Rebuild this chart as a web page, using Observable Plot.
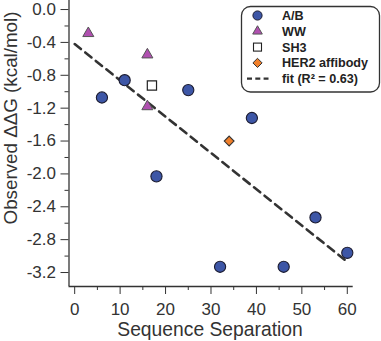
<!DOCTYPE html>
<html>
<head>
<meta charset="utf-8">
<script src="https://cdn.jsdelivr.net/npm/d3@7"></script>
<script src="https://cdn.jsdelivr.net/npm/@observablehq/plot@0.6"></script>
<style>
  html, body { margin: 0; padding: 0; background: #fff; }
  svg { font-family: "Liberation Sans", Arial, sans-serif; }
</style>
</head>
<body>
<div id="chart"></div>
<script>
// ---- data ----
const abX = [6, 11, 18, 25, 32, 39, 46, 53, 60];
const abY = [-1.07, -0.86, -2.03, -0.98, -3.13, -1.32, -3.13, -2.53, -2.96];
const wwX = [3, 16, 16];
const wwY = [-0.29, -0.55, -1.18];
const sh3X = [17];
const sh3Y = [-0.925];
const herX = [34];
const herY = [-1.60];
const fitX = [0, 60];
const fitY = [-0.42, -3.07];

const xTicks = [0, 10, 20, 30, 40, 50, 60];
const xMinor = [5, 15, 25, 35, 45, 55];
const yTicks = [0, -0.4, -0.8, -1.2, -1.6, -2.0, -2.4, -2.8, -3.2];
const yMinor = [-0.2, -0.6, -1.0, -1.4, -1.8, -2.2, -2.6, -3.0];
const xDomain = [-1.25, 61.3];
const yDomain = [-3.37, 0.11];

const xLabel = "Sequence Separation";
const yLabel = "Observed \u0394\u0394G (kcal/mol)";
const legendLabels = ["A/B", "WW", "SH3", "HER2 affibody", "fit (R\u00B2 = 0.63)"];

const toRows = (xs, ys) => xs.map((x, i) => ({x, y: ys[i]}));
const ab = toRows(abX, abY), ww = toRows(wwX, wwY), sh3 = toRows(sh3X, sh3Y), her = toRows(herX, herY), fit = toRows(fitX, fitY);

const axisColor = "#333";
const blue = "#3d56a6", purple = "#b050b0", orange = "#f07f2a";

const plot = Plot.plot({
  width: 381,
  height: 341,
  marginLeft: 68.5,
  marginRight: 28.3,
  marginTop: 0,
  marginBottom: 55,
  style: {fontFamily: "'Liberation Sans', Arial, sans-serif", fontSize: "17px", color: axisColor},
  x: {domain: xDomain},
  y: {domain: yDomain},
  marks: [
    Plot.ruleX([xDomain[0]], {stroke: axisColor, strokeWidth: 1.3}),
    Plot.ruleY([yDomain[0]], {stroke: axisColor, strokeWidth: 1.3}),
    Plot.axisX({ticks: xTicks, tickSize: 8, tickPadding: 8, tickFormat: d => String(d), stroke: axisColor, label: null, fontSize: 17}),
    Plot.axisX({ticks: xMinor, tickSize: 4, text: null, label: null, stroke: axisColor}),
    Plot.axisY({ticks: yTicks, tickSize: 8, tickPadding: 5, tickFormat: d => d.toFixed(1), stroke: axisColor, label: null, fontSize: 17}),
    Plot.axisY({ticks: yMinor, tickSize: 4, text: null, label: null, stroke: axisColor}),
    Plot.line(fit, {x: "x", y: "y", stroke: "#333", strokeWidth: 2.6, strokeDasharray: "8,5.5"}),
    Plot.dot(ab, {x: "x", y: "y", r: 5.6, fill: blue, stroke: "#1c1c30", strokeWidth: 1.1, symbol: "circle"}),
    Plot.dot(ww, {x: "x", y: "y", r: 4.1, fill: purple, stroke: "#555", strokeWidth: 1, symbol: "triangle"}),
    Plot.dot(sh3, {x: "x", y: "y", r: 5.2, fill: "#fff", stroke: "#222", strokeWidth: 1.2, symbol: "square"}),
    Plot.dot(her, {x: "x", y: "y", r: 4.4, fill: orange, stroke: "#333", strokeWidth: 1.1, symbol: "diamond2"})
  ]
});

const svg = d3.select(plot);

// axis titles
svg.append("text").attr("x", 210).attr("y", 335.5).attr("text-anchor", "middle")
  .attr("font-size", 19.3).attr("fill", "#333").text(xLabel);
svg.append("text").attr("transform", "translate(17,118) rotate(-90)").attr("text-anchor", "middle")
  .attr("font-size", 18.8).attr("fill", "#333").text(yLabel);

// legend
const lg = svg.append("g").attr("text-anchor", "start");
lg.append("rect").attr("x", 241.5).attr("y", 6.5).attr("width", 138).attr("height", 85.5)
  .attr("rx", 9).attr("fill", "#fff").attr("stroke", "#333").attr("stroke-width", 1.3);
const rowY = i => 15.5 + i * 15.8;
const mx = 257.5;
lg.append("circle").attr("cx", mx).attr("cy", rowY(0)).attr("r", 4.6).attr("fill", blue).attr("stroke", "#1c1c30");
lg.append("path").attr("d", d3.symbol(d3.symbolTriangle, 40)()).attr("transform", `translate(${mx},${rowY(1)})`)
  .attr("fill", purple).attr("stroke", "#555");
lg.append("rect").attr("x", mx - 4).attr("y", rowY(2) - 4).attr("width", 8).attr("height", 8).attr("fill", "#fff").attr("stroke", "#222").attr("stroke-width", 1.1);
lg.append("path").attr("d", "M0,-4.6L4.6,0L0,4.6L-4.6,0Z").attr("transform", `translate(${mx},${rowY(3)})`)
  .attr("fill", orange).attr("stroke", "#333");
lg.append("line").attr("x1", 247).attr("x2", 268.5).attr("y1", rowY(4)).attr("y2", rowY(4))
  .attr("stroke", "#333").attr("stroke-width", 2.2).attr("stroke-dasharray", "5,3.3");
legendLabels.forEach((t, i) => {
  lg.append("text").attr("x", 282).attr("y", rowY(i)).attr("dy", "0.36em")
    .attr("font-size", 12.6).attr("font-weight", "bold").attr("fill", "#222").text(t);
});

document.getElementById("chart").append(plot);
</script>
</body>
</html>
